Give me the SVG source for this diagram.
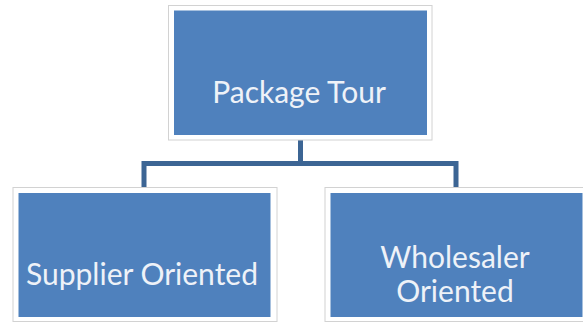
<svg xmlns="http://www.w3.org/2000/svg" width="583" height="323" viewBox="0 0 583 323">
<style>
.frame{fill:#ffffff;stroke:#d2d2d2;stroke-width:1}
.box{fill:#4f81bd}
.lbl{font-family:Lato,"Liberation Sans",sans-serif;font-size:30px;fill:#eef2f8;text-anchor:middle}
.conn{fill:none;stroke:#3c6594;stroke-width:5}
</style>
<rect width="583" height="323" fill="#ffffff"/>
<g id="connectors">
<path class="conn" d="M300.5 140 V163.5 M144 187 V163.5 H456 V187"/>
</g>
<g id="node-package-tour">
<rect class="frame" x="168.5" y="5.5" width="263.5" height="134.5"/>
<rect class="box" x="174" y="10.5" width="253" height="124.5"/>
<text class="lbl" x="299" y="103">Package Tour</text>
</g>
<g id="node-supplier-oriented">
<rect class="frame" x="13" y="187.5" width="264" height="134"/>
<rect class="box" x="18.5" y="193" width="252" height="124"/>
<text class="lbl" x="142" y="285">Supplier Oriented</text>
</g>
<g id="node-wholesaler-oriented">
<rect class="frame" x="325" y="187.5" width="264" height="134"/>
<rect class="box" x="330.5" y="193" width="252" height="124"/>
<text class="lbl" x="455" y="268">Wholesaler</text>
<text class="lbl" x="455" y="302">Oriented</text>
</g>
</svg>
